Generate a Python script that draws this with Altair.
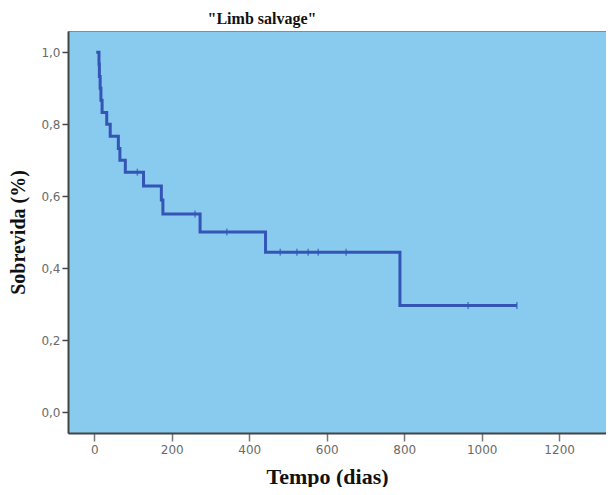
import altair as alt
import pandas as pd

# Kaplan-Meier step curve (time in days, survival proportion)
event_times = [5, 12, 13, 15, 17, 20, 32, 41, 62, 66, 80, 127, 173, 177, 273, 442, 789, 1091]
survival = [1.0, 0.967, 0.933, 0.9, 0.867, 0.833, 0.8, 0.767, 0.733, 0.7, 0.667, 0.629, 0.59, 0.551, 0.501, 0.445, 0.297, 0.297]

# Censored observations
censor_times = [111, 260, 342, 480, 523, 552, 578, 650, 965, 1091]
censor_surv = [0.667, 0.551, 0.501, 0.445, 0.445, 0.445, 0.445, 0.445, 0.297, 0.297]

x_ticks = [0, 200, 400, 600, 800, 1000, 1200]
y_ticks = [0.0, 0.2, 0.4, 0.6, 0.8, 1.0]

line_df = pd.DataFrame({"t": event_times, "s": survival})
cens_df = pd.DataFrame({"t": censor_times, "s": censor_surv})

LINE = "#3454B6"
xscale = alt.Scale(domain=[-68, 1321], nice=False, zero=False)
yscale = alt.Scale(domain=[-0.057, 1.059], nice=False, zero=False)

xaxis = alt.Axis(
    values=x_ticks, grid=False, title="Tempo (dias)", format="d",
    labelFont="DejaVu Sans", labelFontSize=12, labelColor="#6a6a6a",
    tickColor="#777777", tickSize=8, tickWidth=1.5, labelPadding=3,
    domainColor="#444444", domainWidth=2,
    titleFont="Liberation Serif", titleFontSize=22, titleFontWeight="bold",
    titleColor="#111111", titlePadding=11, titleX=259,
)
yaxis = alt.Axis(
    values=y_ticks, grid=False, title="Sobrevida (%)",
    labelExpr="replace(format(datum.value, '.1f'), '.', ',')",
    labelFont="DejaVu Sans", labelFontSize=12, labelColor="#6a6a6a",
    tickColor="#444444", tickSize=6, tickWidth=1.5, labelPadding=2,
    domainColor="#444444", domainWidth=2,
    titleFont="Liberation Serif", titleFontSize=20, titleFontWeight="bold",
    titleColor="#111111", titlePadding=12,
)

line = alt.Chart(line_df).mark_line(
    interpolate="step-after", color=LINE, strokeWidth=3
).encode(
    x=alt.X("t:Q", scale=xscale, axis=xaxis),
    y=alt.Y("s:Q", scale=yscale, axis=yaxis),
)

cens = alt.Chart(cens_df).mark_tick(
    orient="vertical", color=LINE, size=7, thickness=1.5
).encode(
    x=alt.X("t:Q", scale=xscale),
    y=alt.Y("s:Q", scale=yscale),
)

chart = alt.layer(line, cens).properties(
    width=538, height=402,
    title=alt.TitleParams('"Limb salvage"', font="Liberation Serif", fontSize=16,
                          fontWeight="bold", color="#111111", anchor="middle",
                          dx=-75, offset=4),
    autosize=alt.AutoSizeParams(type="none"),
    padding={"left": 60, "top": 23, "right": 0, "bottom": 54},
).configure_view(fill="#88CBEE", stroke="#8a8a8a", strokeWidth=1)

chart.save("out.html", embed_options={"renderer": "svg", "actions": False})
